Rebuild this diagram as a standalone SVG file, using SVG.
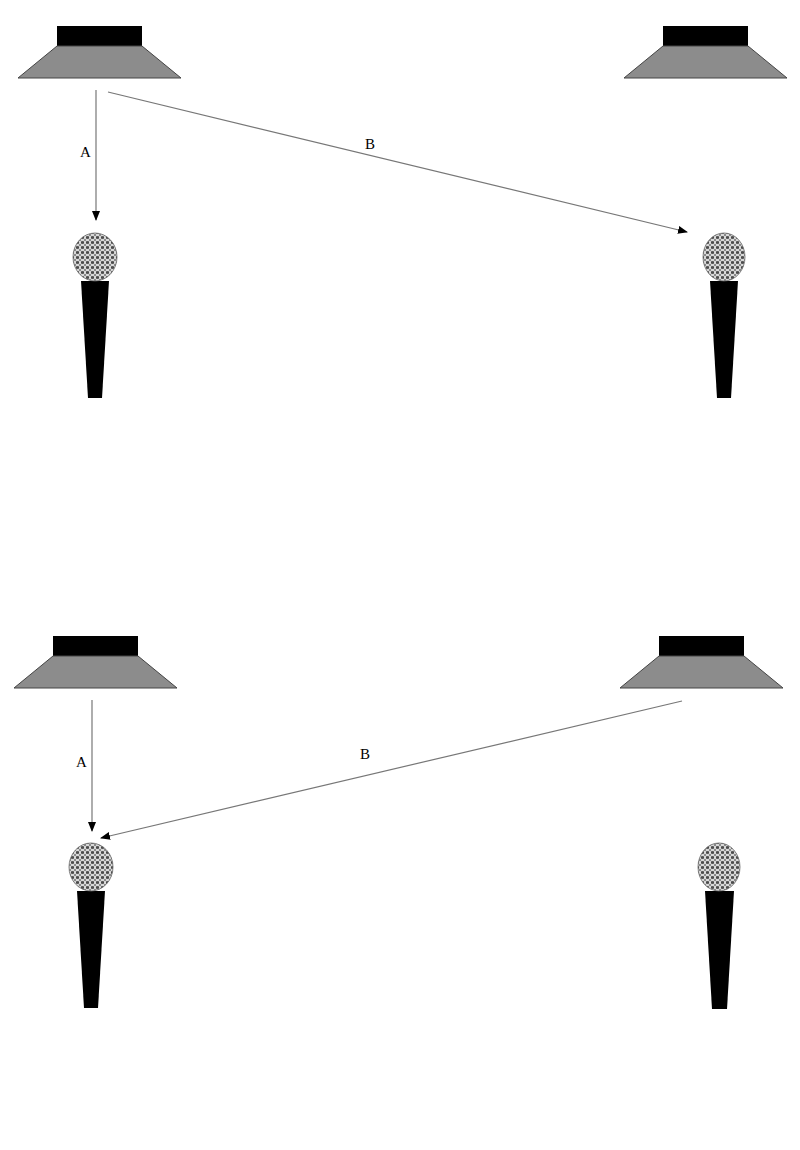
<svg xmlns="http://www.w3.org/2000/svg" width="800" height="1150" viewBox="0 0 800 1150">
<defs>
<pattern id="mesh" width="5" height="5" patternUnits="userSpaceOnUse">
<rect width="5" height="5" fill="#d8d8d8"/>
<circle cx="2.5" cy="2.5" r="1.3" fill="#222"/>
<path d="M0 0L5 5M5 0L0 5" stroke="#555" stroke-width="0.6"/>
</pattern>
<marker id="ah" markerWidth="10" markerHeight="8" refX="9" refY="4" orient="auto" markerUnits="userSpaceOnUse">
<path d="M0 0L10 4L0 8z" fill="#000"/>
</marker>
<style>
.cab{fill:#000}
.horn{fill:#8c8c8c;stroke:#444;stroke-width:1}
.head{fill:url(#mesh);stroke:#666;stroke-width:0.8}
.body{fill:#000}
.con{stroke:#777;stroke-width:1.2;fill:none;marker-end:url(#ah)}
.lbl{font-family:"Liberation Serif",serif;font-size:15px;fill:#000}
</style>
</defs>
<g id="spk1"><rect class="cab" x="57" y="26" width="85" height="20"/><path class="horn" d="M57 46H142L181 78H18Z"/></g>
<g id="spk2"><rect class="cab" x="663" y="26" width="85" height="20"/><path class="horn" d="M663 46H748L787 78H624Z"/></g>
<g id="mic1"><path class="body" d="M81 281H109L102 398H88Z"/><ellipse class="head" cx="95" cy="257" rx="22" ry="24"/></g>
<g id="mic2"><path class="body" d="M710 281H738L731 398H717Z"/><ellipse class="head" cx="724" cy="257" rx="21" ry="24"/></g>
<g id="spk3"><rect class="cab" x="53" y="636" width="85" height="20"/><path class="horn" d="M53 656H138L177 688H14Z"/></g>
<g id="spk4"><rect class="cab" x="659" y="636" width="85" height="20"/><path class="horn" d="M659 656H744L783 688H620Z"/></g>
<g id="mic3"><path class="body" d="M77 891H105L98 1008H84Z"/><ellipse class="head" cx="91" cy="867" rx="22" ry="24"/></g>
<g id="mic4"><path class="body" d="M705 891H734L727 1009H712Z"/><ellipse class="head" cx="719" cy="867" rx="21" ry="24"/></g>
<g id="connectors">
<line class="con" x1="96" y1="90" x2="96" y2="220"/>
<line class="con" x1="108" y1="92" x2="687" y2="232"/>
<line class="con" x1="92" y1="700" x2="92" y2="831"/>
<line class="con" x1="682" y1="701" x2="101" y2="838"/>
</g>
<g id="labels">
<text class="lbl" x="80" y="157">A</text>
<text class="lbl" x="365" y="149">B</text>
<text class="lbl" x="76" y="767">A</text>
<text class="lbl" x="360" y="759">B</text>
</g>
</svg>
